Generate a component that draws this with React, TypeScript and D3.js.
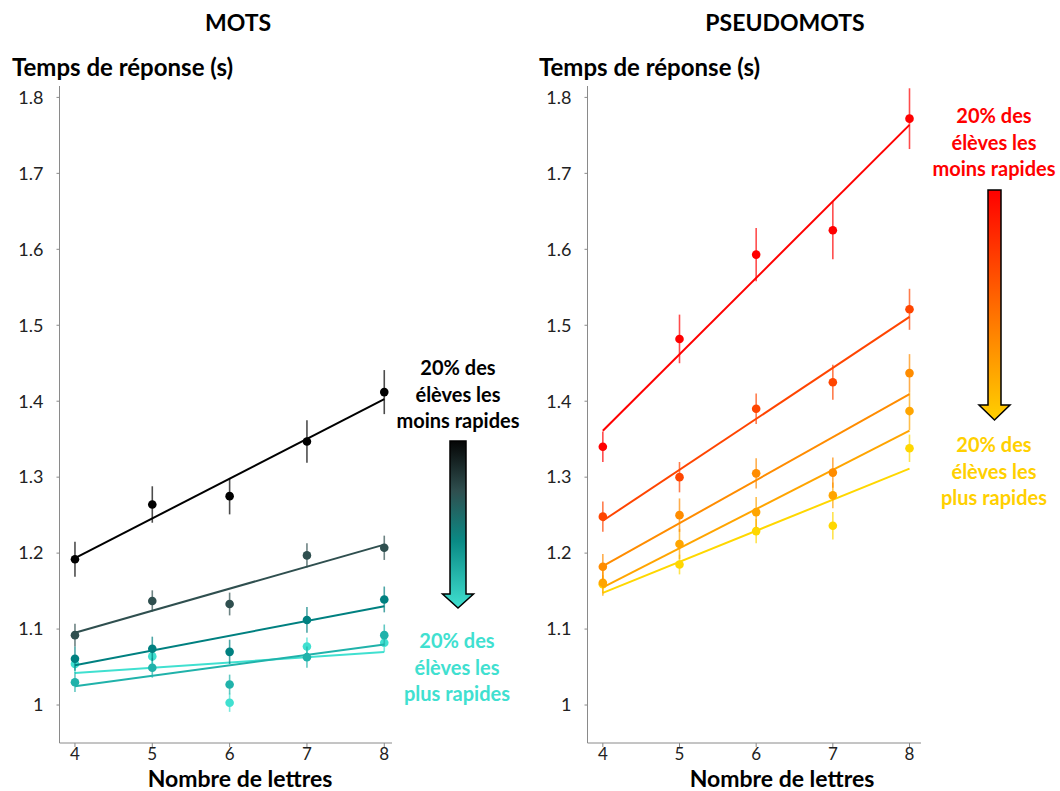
import React from "react";
import * as d3 from "d3";

// ---------- DATA ----------
const letters = [4, 5, 6, 7, 8];
const yTickValues = [1.0, 1.1, 1.2, 1.3, 1.4, 1.5, 1.6, 1.7, 1.8];
const yTickLabels = ["1", "1.1", "1.2", "1.3", "1.4", "1.5", "1.6", "1.7", "1.8"];

// MOTS (words): slowest -> fastest
const motsColors = ["#000000", "#2f4f4f", "#008080", "#20b2aa", "#40e0d0"];
const motsMeans = [
  [1.192, 1.264, 1.275, 1.347, 1.412],
  [1.092, 1.137, 1.133, 1.197, 1.207],
  [1.061, 1.074, 1.07, 1.112, 1.139],
  [1.03, 1.049, 1.027, 1.063, 1.092],
  [1.054, 1.064, 1.003, 1.077, 1.082],
];
const motsErrors = [
  [0.023, 0.024, 0.024, 0.028, 0.029],
  [0.015, 0.014, 0.015, 0.016, 0.016],
  [0.016, 0.016, 0.016, 0.017, 0.017],
  [0.013, 0.013, 0.013, 0.014, 0.014],
  [0.012, 0.012, 0.012, 0.012, 0.012],
];

// PSEUDOMOTS (pseudowords): slowest -> fastest
const pseudoColors = ["#ff0000", "#ff4500", "#ff8c00", "#ffa500", "#ffd700"];
const pseudoMeans = [
  [1.34, 1.482, 1.593, 1.625, 1.772],
  [1.248, 1.3, 1.39, 1.425, 1.521],
  [1.182, 1.25, 1.305, 1.306, 1.437],
  [1.161, 1.212, 1.254, 1.276, 1.387],
  [1.159, 1.185, 1.229, 1.236, 1.338],
];
const pseudoErrors = [
  [0.02, 0.032, 0.035, 0.038, 0.04],
  [0.02, 0.02, 0.02, 0.023, 0.027],
  [0.017, 0.022, 0.02, 0.02, 0.025],
  [0.017, 0.02, 0.02, 0.017, 0.025],
  [0.012, 0.013, 0.016, 0.018, 0.018],
];

const titles = ["MOTS", "PSEUDOMOTS"];
const yAxisTitle = "Temps de réponse (s)";
const xAxisTitle = "Nombre de lettres";
const slowText = ["20% des", "élèves les", "moins rapides"];
const fastText = ["20% des", "élèves les", "plus rapides"];

// ---------- HELPERS ----------
const FONT = "Lato, 'Open Sans', sans-serif";
const AXIS_COLOR = "#8a8a8a";

function regression(xs: number[], ys: number[]) {
  const mx = d3.mean(xs) as number;
  const my = d3.mean(ys) as number;
  let num = 0;
  let den = 0;
  xs.forEach((x, i) => {
    num += (x - mx) * (ys[i] - my);
    den += (x - mx) * (x - mx);
  });
  const slope = num / den;
  return { slope, intercept: my - slope * mx };
}

const yScale = d3.scaleLinear().domain([0.95, 1.815]).range([743, 86]);

type PanelProps = {
  xScale: d3.ScaleLinear<number, number>;
  means: number[][];
  errors: number[][];
  colors: string[];
  title: string;
  titleX: number;
  yTitleX: number;
  xTitleX: number;
};

function Panel({ xScale, means, errors, colors, title, titleX, yTitleX, xTitleX }: PanelProps) {
  const [x0, x1] = xScale.range();
  const yBottom = yScale(0.95);
  const yTop = yScale(1.815);
  const line = d3
    .line<[number, number]>()
    .x((d) => xScale(d[0]))
    .y((d) => yScale(d[1]));
  return (
    <g>
      <text x={titleX} y={31} textAnchor="middle" fontFamily={FONT} fontWeight={700} fontSize={23} fill="#000">
        {title}
      </text>
      <text x={yTitleX} y={76} fontFamily={FONT} fontWeight={700} fontSize={24} fill="#000">
        {yAxisTitle}
      </text>
      {/* y axis */}
      <line x1={x0} x2={x0} y1={yTop} y2={yBottom} stroke={AXIS_COLOR} strokeWidth={1} />
      {yTickValues.map((v, i) => (
        <g key={"yt" + i}>
          <line x1={x0 - 3} x2={x0} y1={yScale(v)} y2={yScale(v)} stroke={AXIS_COLOR} strokeWidth={1} />
          <text
            x={x0 - 16}
            y={yScale(v)}
            dy="0.35em"
            textAnchor="end"
            fontFamily={FONT}
            fontSize={18}
            fill="#222"
          >
            {yTickLabels[i]}
          </text>
        </g>
      ))}
      {/* x axis */}
      <line x1={x0} x2={x1} y1={yBottom} y2={yBottom} stroke={AXIS_COLOR} strokeWidth={1} />
      {letters.map((l) => (
        <g key={"xt" + l}>
          <line x1={xScale(l)} x2={xScale(l)} y1={yBottom} y2={yBottom + 4} stroke={AXIS_COLOR} strokeWidth={1} />
          <text x={xScale(l)} y={760} textAnchor="middle" fontFamily={FONT} fontSize={17} fill="#222">
            {l}
          </text>
        </g>
      ))}
      <text x={xTitleX} y={787} textAnchor="middle" fontFamily={FONT} fontWeight={700} fontSize={23} fill="#000">
        {xAxisTitle}
      </text>
      {/* series, drawn fastest first so slowest on top */}
      {means
        .map((ys, si) => ({ ys, si }))
        .reverse()
        .map(({ ys, si }) => {
          const { slope, intercept } = regression(letters, ys);
          const fit: [number, number][] = [
            [letters[0], intercept + slope * letters[0]],
            [letters[letters.length - 1], intercept + slope * letters[letters.length - 1]],
          ];
          const c = colors[si];
          return (
            <g key={"s" + si}>
              {ys.map((v, i) => (
                <line
                  key={"e" + i}
                  x1={xScale(letters[i])}
                  x2={xScale(letters[i])}
                  y1={yScale(v - errors[si][i])}
                  y2={yScale(v + errors[si][i])}
                  stroke={c}
                  strokeOpacity={0.7}
                  strokeWidth={1.6}
                />
              ))}
              <path d={line(fit) as string} stroke={c} strokeWidth={2} fill="none" />
              {ys.map((v, i) => (
                <circle key={"p" + i} cx={xScale(letters[i])} cy={yScale(v)} r={4.3} fill={c} />
              ))}
            </g>
          );
        })}
    </g>
  );
}

type ArrowProps = {
  cx: number;
  shaftW: number;
  headW: number;
  top: number;
  shaftBottom: number;
  tip: number;
  gradId: string;
};

function Arrow({ cx, shaftW, headW, top, shaftBottom, tip, gradId }: ArrowProps) {
  const pts: [number, number][] = [
    [cx - shaftW / 2, top],
    [cx + shaftW / 2, top],
    [cx + shaftW / 2, shaftBottom],
    [cx + headW / 2, shaftBottom],
    [cx, tip],
    [cx - headW / 2, shaftBottom],
    [cx - shaftW / 2, shaftBottom],
  ];
  const path = d3.line()(pts) + "Z";
  return <path d={path} fill={`url(#${gradId})`} stroke="#000" strokeWidth={1.5} strokeLinejoin="miter" />;
}

function Annotation({
  x,
  lines,
  y0,
  color,
}: {
  x: number;
  lines: string[];
  y0: number;
  color: string;
}) {
  return (
    <text textAnchor="middle" fontFamily={FONT} fontWeight={700} fontSize={20} fill={color}>
      {lines.map((t, i) => (
        <tspan key={i} x={x} y={y0 + i * 26.5}>
          {t}
        </tspan>
      ))}
    </text>
  );
}

export default function App() {
  const xLeft = d3.scaleLinear().domain([3.8, 8.1]).range([59.5, 392]);
  const xRight = d3.scaleLinear().domain([3.8, 8.15]).range([587.5, 921]);
  return (
    <svg
      width={1060}
      height={791}
      style={{ position: "absolute", left: 0, top: 0, background: "#fff" }}
    >
      <defs>
        <linearGradient id="gradMots" x1="0" y1="0" x2="0" y2="1">
          <stop offset="0%" stopColor="#050505" />
          <stop offset="30%" stopColor="#2f4f4f" />
          <stop offset="60%" stopColor="#0a8a85" />
          <stop offset="100%" stopColor="#40e0d0" />
        </linearGradient>
        <linearGradient id="gradPseudo" x1="0" y1="0" x2="0" y2="1">
          <stop offset="0%" stopColor="#ff0000" />
          <stop offset="50%" stopColor="#ff6a00" />
          <stop offset="100%" stopColor="#ffd000" />
        </linearGradient>
      </defs>
      <rect x={0} y={0} width={1060} height={791} fill="#fff" />
      <Panel
        xScale={xLeft}
        means={motsMeans}
        errors={motsErrors}
        colors={motsColors}
        title={titles[0]}
        titleX={238}
        yTitleX={12}
        xTitleX={240}
      />
      <Panel
        xScale={xRight}
        means={pseudoMeans}
        errors={pseudoErrors}
        colors={pseudoColors}
        title={titles[1]}
        titleX={785}
        yTitleX={539}
        xTitleX={782}
      />
      {/* MOTS legend arrow */}
      <Annotation x={458} lines={slowText} y0={375} color="#000" />
      <Arrow cx={458} shaftW={16} headW={31} top={441} shaftBottom={594} tip={608} gradId="gradMots" />
      <Annotation x={457} lines={fastText} y0={648} color="#40e0d0" />
      {/* PSEUDOMOTS legend arrow */}
      <Annotation x={994} lines={slowText} y0={123} color="#ff0000" />
      <Arrow cx={994.5} shaftW={13} headW={31} top={190} shaftBottom={405} tip={420} gradId="gradPseudo" />
      <Annotation x={994} lines={fastText} y0={452} color="#ffd000" />
    </svg>
  );
}
